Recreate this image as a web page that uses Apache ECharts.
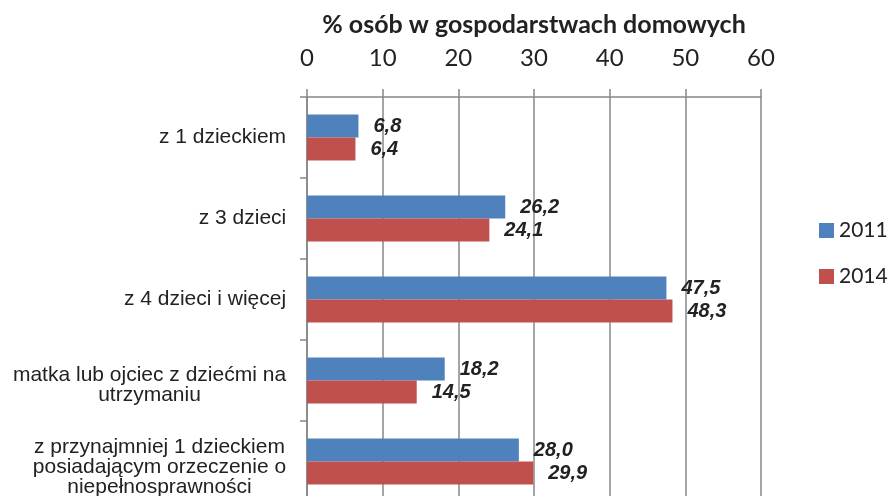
<!DOCTYPE html>
<html>
<head>
<meta charset="utf-8">
<script src="https://cdn.jsdelivr.net/npm/echarts@6/dist/echarts.min.js"></script>
<style>
  html, body { margin: 0; padding: 0; background: #fff; }
  #chart { width: 895px; height: 496px; }
</style>
</head>
<body>
<div id="chart"></div>
<script>
const categories = [
  'z 1 dzieckiem',
  'z 3 dzieci',
  'z 4 dzieci i więcej',
  'matka lub ojciec z dziećmi na\nutrzymaniu',
  'z przynajmniej 1 dzieckiem\nposiadającym orzeczenie o\nniepełnosprawności'
]
const values2011 = [6.8, 26.2, 47.5, 18.2, 28.0]
const values2014 = [6.4, 24.1, 48.3, 14.5, 29.9]
const xTicks = { min: 0, max: 60, interval: 10 }

const catFont = 'Liberation Sans'
const catSize = 21
const textColor = '#222'
const gray = '#878787'

// each multi-line label gets its own rich style so lines center inside the block;
// multi-line ones sit a little lower in the original, so a blank spacer line goes on top
const ctx = document.createElement('canvas').getContext('2d')
ctx.font = catSize + 'px "' + catFont + '"'
const rich = {}
categories.forEach((c, i) => {
  const lines = c.split('\n')
  const w = Math.max(...lines.map(l => ctx.measureText(l).width))
  rich['c' + i] = { width: Math.ceil(w) + 1, align: 'center', fontSize: catSize, fontFamily: catFont, color: textColor, lineHeight: 20 }
  rich['s' + i] = { fontSize: 1, lineHeight: lines.length > 2 ? 12 : (lines.length > 1 ? 10 : 0) }
})

const fmt = p => p.value.toFixed(1).replace('.', ',')

const labelStyle = {
  show: true,
  position: 'right',
  distance: 15,
  formatter: fmt,
  fontFamily: 'Liberation Sans',
  fontSize: 20,
  fontWeight: 'bold',
  fontStyle: 'italic',
  color: textColor
}

const chart = echarts.init(document.getElementById('chart'))

chart.setOption({
  animation: false,
  grid: { left: 307, top: 97, width: 454, height: 405, containLabel: false, outerBoundsMode: 'none' },
  legend: {
    orient: 'vertical',
    left: 814,
    top: 215,
    itemWidth: 15,
    itemHeight: 15,
    itemGap: 25,
    icon: 'rect',
    textStyle: { fontFamily: 'Lato', fontSize: 21, color: textColor },
    data: ['2011', '2014']
  },
  xAxis: {
    type: 'value',
    position: 'top',
    min: xTicks.min,
    max: xTicks.max,
    interval: xTicks.interval,
    name: '% osób w gospodarstwach domowych',
    nameLocation: 'middle',
    nameGap: 60,
    nameTextStyle: { fontFamily: 'Lato', fontSize: 25, fontWeight: 'bold', color: textColor },
    axisLine: { show: true, lineStyle: { color: gray, width: 1.5 } },
    axisTick: { show: true, inside: false, length: 8, lineStyle: { color: gray, width: 1.5 } },
    axisLabel: { margin: 27, fontFamily: 'Lato', fontSize: 24, color: textColor },
    splitLine: { show: true, lineStyle: { color: gray, width: 1.5 } }
  },
  yAxis: {
    type: 'category',
    inverse: true,
    data: categories,
    axisLine: { show: true, lineStyle: { color: gray, width: 1.5 } },
    axisTick: { show: true, inside: false, length: 7, lineStyle: { color: gray, width: 1.5 } },
    axisLabel: {
      margin: 20,
      align: 'right',
      formatter: (v, i) => {
        const lines = v.split('\n').map(l => '{c' + i + '|' + l + '}')
        if (lines.length > 1) lines.unshift('{s' + i + '| }')
        return lines.join('\n')
      },
      rich: rich
    },
    splitLine: { show: false }
  },
  series: [
    {
      name: '2011',
      type: 'bar',
      data: values2011,
      barWidth: 23,
      barGap: '0%',
      itemStyle: { color: '#4F81BD' },
      label: labelStyle
    },
    {
      name: '2014',
      type: 'bar',
      data: values2014,
      barWidth: 23,
      barGap: '0%',
      itemStyle: { color: '#C0504D' },
      label: labelStyle
    }
  ]
})
</script>
</body>
</html>
